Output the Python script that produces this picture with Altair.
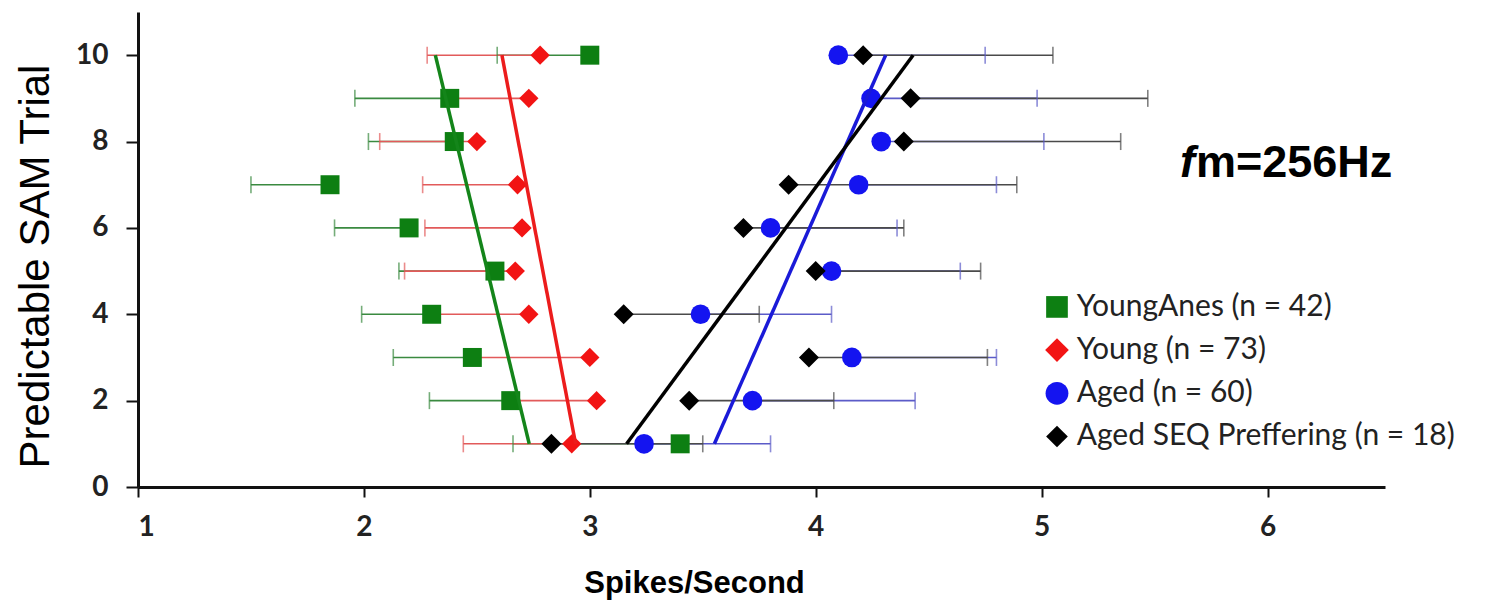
import altair as alt
import pandas as pd

# ---- data ----
trials = [1, 2, 3, 4, 5, 6, 7, 8, 9, 10]

series_names = ["YoungAnes (n = 42)", "Young (n = 73)", "Aged (n = 60)", "Aged SEQ Preffering (n = 18)"]

young_anes = [3.40, 2.65, 2.48, 2.30, 2.58, 2.20, 1.85, 2.40, 2.38, 3.00]
young_anes_err = [2.66, 2.29, 2.13, 1.99, 2.155, 1.87, 1.50, 2.02, 1.96, 2.59]

young = [2.92, 3.03, 3.00, 2.73, 2.67, 2.70, 2.68, 2.50, 2.73, 2.78]
young_err = [2.44, 2.66, 2.50, 2.32, 2.18, 2.27, 2.26, 2.07, 2.40, 2.28]

aged = [3.24, 3.72, 4.16, 3.49, 4.07, 3.80, 4.19, 4.29, 4.245, 4.10]
aged_err = [3.80, 4.44, 4.80, 4.07, 4.64, 4.36, 4.80, 5.01, 4.98, 4.75]

aged_seq = [2.83, 3.44, 3.97, 3.15, 4.00, 3.68, 3.88, 4.39, 4.42, 4.21]
aged_seq_err = [3.50, 4.08, 4.76, 3.75, 4.73, 4.39, 4.89, 5.35, 5.47, 5.05]

x_ticks = [1, 2, 3, 4, 5, 6]
y_ticks = [0, 2, 4, 6, 8, 10]

# ---- styles ----
point_colors = ["#0d7f12", "#f21414", "#1414f0", "#000000"]
bar_colors = ["#3a8a40", "#e25a5a", "#5b5bc8", "#4a4a4a"]
line_colors = ["#14851a", "#ec1c1c", "#1a1ad8", "#000000"]
shapes = ["square", "diamond", "circle", "diamond"]
sizes = [360, 400, 380, 190]
legend_sizes = [470, 560, 520, 470]

values = [young_anes, young, aged, aged_seq]
errs = [young_anes_err, young_err, aged_err, aged_seq_err]

rows = []
for i, name in enumerate(series_names):
    for t, v, e in zip(trials, values[i], errs[i]):
        rows.append({"series": name, "trial": t, "value": v, "err": e,
                     "barcolor": bar_colors[i], "linecolor": line_colors[i]})
df = pd.DataFrame(rows)

# legend placed in data space (layout only)
leg_x_sym, leg_x_txt, leg_y0, leg_dy = 5.068, 5.155, 4.17, 1.0
leg_df = pd.DataFrame({
    "series": series_names,
    "lx": [leg_x_sym] * 4,
    "tx": [leg_x_txt] * 4,
    "ly": [leg_y0 - i * leg_dy for i in range(4)],
    "lsize": legend_sizes,
})

xscale = alt.Scale(domain=[1, 6.52], nice=False, zero=False)
yscale = alt.Scale(domain=[0, 11], nice=False)
cscale = alt.Scale(domain=series_names, range=point_colors)
sscale = alt.Scale(domain=series_names, range=shapes)

x_axis = alt.Axis(values=x_ticks, format="d", title="Spikes/Second", grid=False,
                  domainColor="#111", domainWidth=3, tickColor="#111", tickWidth=2,
                  tickSize=10, labelPadding=16, labelFont="Lato", labelFontWeight="bold",
                  labelFontSize=28, labelColor="#222", titleFont="Liberation Sans",
                  titleFontWeight="bold", titleFontSize=31, titleColor="#000",
                  titleX=556, titleY=105, titleAlign="center", titleBaseline="alphabetic")
y_axis = alt.Axis(values=y_ticks, format="d", title="Predictable SAM Trial", grid=False,
                  domainColor="#111", domainWidth=3, tickColor="#111", tickWidth=2,
                  tickSize=12, labelPadding=18, labelFont="Lato", labelFontWeight="bold",
                  labelFontSize=28, labelColor="#222", titleFont="Liberation Sans",
                  titleFontWeight="normal", titleFontSize=42, titleColor="#000",
                  titleAngle=270, titleX=-90, titleY=254, titleAlign="center",
                  titleBaseline="alphabetic")

base = alt.Chart(df)

bars = base.mark_rule(strokeWidth=1.6).encode(
    x=alt.X("value:Q", scale=xscale, axis=x_axis),
    x2="err:Q",
    y=alt.Y("trial:Q", scale=yscale, axis=y_axis),
    color=alt.Color("barcolor:N", scale=None),
)

caps = base.mark_tick(orient="vertical", size=17, thickness=1.6).encode(
    x=alt.X("err:Q", scale=xscale),
    y=alt.Y("trial:Q", scale=yscale),
    color=alt.Color("barcolor:N", scale=None),
)

points = base.mark_point(filled=True, opacity=1, strokeWidth=0).encode(
    x=alt.X("value:Q", scale=xscale),
    y=alt.Y("trial:Q", scale=yscale),
    color=alt.Color("series:N", scale=cscale, legend=None),
    shape=alt.Shape("series:N", scale=sscale, legend=None),
    size=alt.Size("series:N", scale=alt.Scale(domain=series_names, range=sizes), legend=None),
)

trend = base.transform_regression(
    "trial", "value", groupby=["series", "linecolor"]
).mark_line(strokeWidth=3.5).encode(
    x=alt.X("value:Q", scale=xscale),
    y=alt.Y("trial:Q", scale=yscale),
    detail="series:N",
    color=alt.Color("linecolor:N", scale=None),
)

leg_sym = alt.Chart(leg_df).mark_point(filled=True, opacity=1, strokeWidth=0).encode(
    x=alt.X("lx:Q", scale=xscale),
    y=alt.Y("ly:Q", scale=yscale),
    color=alt.Color("series:N", scale=cscale, legend=None),
    shape=alt.Shape("series:N", scale=sscale, legend=None),
    size=alt.Size("lsize:Q", scale=None),
)
leg_txt = alt.Chart(leg_df).mark_text(font="Lato", fontSize=30, color="#222",
                                      align="left", baseline="middle").encode(
    x=alt.X("tx:Q", scale=xscale),
    y=alt.Y("ly:Q", scale=yscale),
    text="series:N",
)

ann_df = pd.DataFrame({"f": ["f"], "rest": ["m=256Hz"]})
ann_f = alt.Chart(ann_df).mark_text(font="Liberation Sans", fontSize=45, fontWeight="bold",
                                    fontStyle="italic", align="left", baseline="alphabetic",
                                    color="#000").encode(
    x=alt.value(1042), y=alt.value(165), text="f:N")
ann_rest = alt.Chart(ann_df).mark_text(font="Liberation Sans", fontSize=45, fontWeight="bold",
                                       align="left", baseline="alphabetic",
                                       color="#000").encode(
    x=alt.value(1058), y=alt.value(165), text="rest:N")

chart = alt.layer(bars, caps, points, trend, leg_sym, leg_txt, ann_f, ann_rest).properties(
    width=1247, height=475,
    autosize=alt.AutoSizeParams(type="none"),
    padding={"left": 138, "top": 12, "right": 102, "bottom": 113},
).configure(background="white").configure_view(stroke=None)

chart.save("out.html", embed_options={"renderer": "svg", "actions": False})
